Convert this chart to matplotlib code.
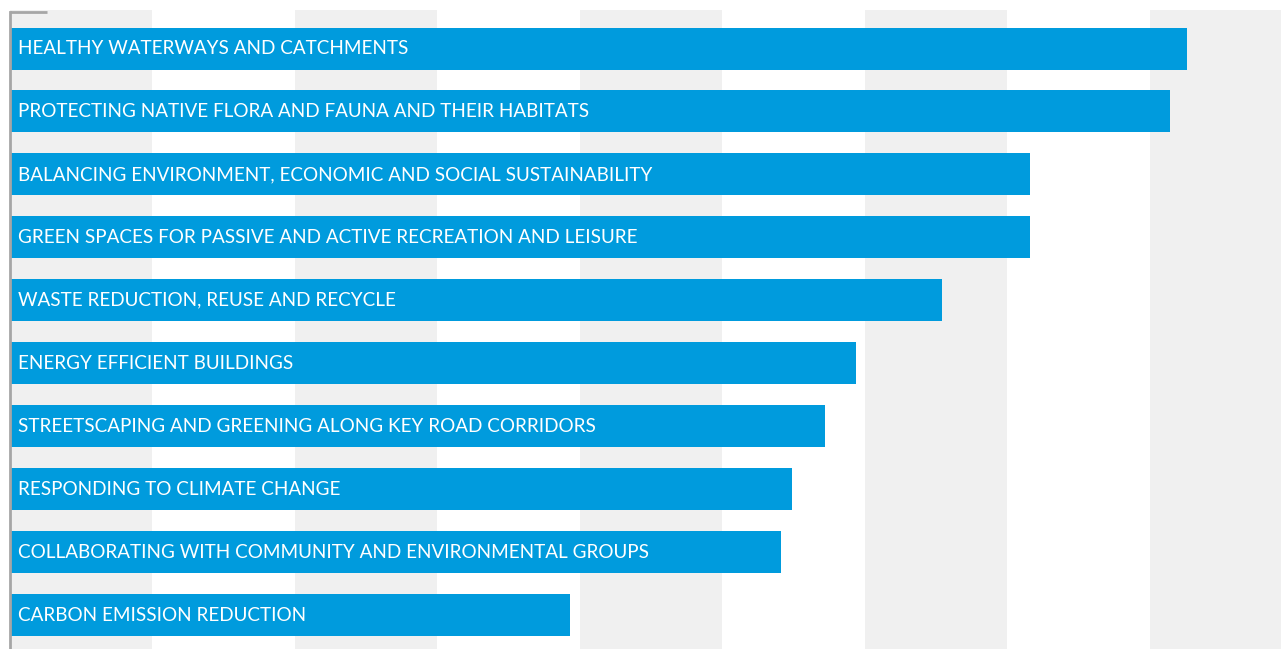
import matplotlib
matplotlib.use('Agg')
import matplotlib.pyplot as plt
import numpy as np

# priorities (top to bottom)
labels = [
    "HEALTHY WATERWAYS AND CATCHMENTS",
    "PROTECTING NATIVE FLORA AND FAUNA AND THEIR HABITATS",
    "BALANCING ENVIRONMENT, ECONOMIC AND SOCIAL SUSTAINABILITY",
    "GREEN SPACES FOR PASSIVE AND ACTIVE RECREATION AND LEISURE",
    "WASTE REDUCTION, REUSE AND RECYCLE",
    "ENERGY EFFICIENT BUILDINGS",
    "STREETSCAPING AND GREENING ALONG KEY ROAD CORRIDORS",
    "RESPONDING TO CLIMATE CHANGE",
    "COLLABORATING WITH COMMUNITY AND ENVIRONMENTAL GROUPS",
    "CARBON EMISSION REDUCTION",
]
values = [82.6, 81.4, 71.6, 71.6, 65.4, 59.4, 57.2, 54.9, 54.1, 39.3]

bar_color = '#009bdd'
band_color = '#f0f0f0'

fig = plt.figure(figsize=(12.81, 6.49), dpi=100)
ax = fig.add_axes([10/1281, 0, 1 - 10/1281, 1 - 10/649])

xmax = 89.2
# alternating background bands every 10 units
for x0 in np.arange(0, xmax, 20):
    ax.axvspan(x0, x0 + 10, color=band_color, lw=0, zorder=0)

pos = np.arange(len(values))
ax.barh(pos, values, height=0.667, color=bar_color, zorder=2)

for i, lab in enumerate(labels):
    ax.annotate(lab, xy=(0, i), xytext=(8, 0), textcoords='offset pixels',
                va='center', ha='left', color='white', fontsize=13.6,
                family='Lato', zorder=3)

ax.set_xlim(0, xmax)
ax.set_ylim(9.54, -0.612)
ax.set_xticks([])
ax.set_yticks([])
for s in ['top', 'right', 'bottom']:
    ax.spines[s].set_visible(False)
ax.spines['left'].set_color('#a6a6a6')
ax.spines['left'].set_linewidth(2)
ax.spines['left'].set_bounds(9.54, -0.58)
# small cap line at the top of the axis
ax.plot([0, 37/14.24], [-0.58, -0.58], color='#a6a6a6', lw=2,
        clip_on=False, solid_capstyle='butt', zorder=4)

plt.savefig('out.png', dpi=100)
